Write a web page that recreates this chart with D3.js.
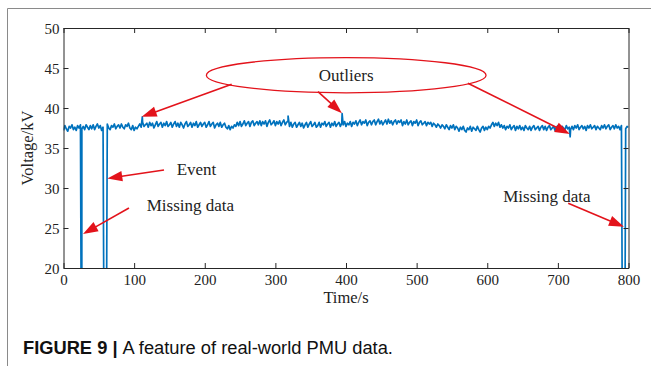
<!DOCTYPE html>
<html><head><meta charset="utf-8">
<script src="https://cdn.jsdelivr.net/npm/d3@7/dist/d3.min.js"></script>
<style>body{margin:0;background:#fff;}svg{display:block;}</style>
</head><body>
<svg id="c" width="651" height="366"></svg>
<script>
// ---- data ----
const xTicks = [0,100,200,300,400,500,600,700,800];
const yTicks = [20,25,30,35,40,45,50];
const sampleStep = 2; // seconds between samples below (t = 0,2,...,800)
const voltage = [
 37.2,37.8,37.4,37.1,37.7,37.5,37.9,37.3,37.6,37.2,37.8,37.5,37.9,37.4,37.7,37.3,37.9,37.6,37.3,37.8,
 37.4,37.9,37.3,37.7,38.0,37.5,37.8,37.2,37.6,37.9,37.4,38.0,37.5,37.3,37.8,37.6,38.0,37.4,37.7,37.9,
 37.5,38.0,37.6,37.4,37.9,37.7,38.1,37.5,37.3,37.8,37.2,37.6,37.4,37.7,38.0,37.6,38.2,37.7,37.9,38.1,
 37.6,38.2,37.8,38.1,37.5,37.9,38.3,37.7,38.0,38.2,37.6,38.1,37.8,38.3,37.7,37.9,38.2,37.6,38.0,38.3,
 37.7,38.1,37.6,38.2,37.9,37.5,38.0,38.3,37.7,37.9,38.2,37.6,38.1,37.8,38.3,37.6,37.9,38.2,37.7,38.0,
 38.2,37.6,37.9,38.3,37.7,38.0,38.2,37.5,37.9,38.1,37.7,38.2,37.6,37.9,38.1,37.6,37.4,37.8,37.3,37.7,
 37.5,37.9,37.7,38.2,37.8,38.3,37.7,38.0,38.4,37.8,38.1,38.3,37.7,38.2,38.4,37.8,38.1,38.3,37.9,38.4,
 37.8,38.3,38.0,38.4,37.7,38.2,38.5,37.9,38.1,38.4,37.8,38.3,38.0,38.4,37.8,38.2,38.5,37.9,38.2,38.4,
 37.7,38.2,37.6,38.0,38.2,37.6,37.9,38.2,37.7,38.1,37.5,37.9,38.2,37.6,38.0,38.3,37.7,37.9,38.2,37.6,
 37.8,38.2,37.6,38.1,37.9,38.3,37.7,38.0,38.2,37.6,38.1,37.8,38.3,37.7,38.0,38.2,37.7,38.1,37.9,38.3,
 37.7,38.1,37.9,38.3,37.7,38.2,38.0,38.4,37.8,38.2,38.5,37.9,38.3,38.1,38.5,37.8,38.2,38.4,37.9,38.3,
 38.5,37.9,38.3,38.6,38.0,38.4,37.9,38.2,38.5,38.0,38.6,38.1,38.4,37.9,38.3,38.5,38.0,38.4,38.2,38.5,
 37.8,38.3,38.0,38.5,37.9,38.2,38.4,37.8,38.3,38.1,38.5,37.8,38.2,38.4,37.9,38.1,38.3,37.8,38.2,38.0,
 38.2,37.7,38.1,37.9,37.6,38.0,37.8,37.5,37.9,37.7,37.4,37.9,37.6,37.3,37.8,37.5,37.9,37.3,37.7,37.5,
 37.1,37.6,37.3,37.7,37.2,37.0,37.5,37.3,37.7,37.1,37.6,37.4,37.2,37.7,37.3,37.0,37.5,37.7,37.2,37.6,
 37.3,37.7,37.5,37.9,38.2,37.7,38.1,37.8,38.2,37.6,37.9,37.5,37.8,37.3,37.7,37.5,37.9,37.3,37.6,37.8,
 37.2,37.7,37.4,37.8,37.3,37.6,37.2,37.8,37.5,37.3,37.7,37.2,37.6,37.8,37.3,37.5,37.7,37.2,37.6,37.8,
 37.3,37.7,37.2,37.6,37.8,37.3,37.5,37.7,37.2,37.6,37.8,37.4,37.2,37.7,37.5,37.3,37.8,37.4,37.6,37.3,
 37.7,37.3,37.8,37.5,37.9,37.3,37.6,37.8,37.4,37.7,37.2,37.8,37.5,37.9,37.4,37.6,37.8,37.3,37.7,37.5,
 37.3,37.8,37.5,37.9,37.4,37.7,37.9,37.3,37.6,37.8,37.4,37.9,37.5,37.7,37.3,37.8,37.6,37.9,37.4,37.7,
 37.6
];
const spikeTimes  = [111.6, 318, 394.5, 717.4];
const spikeValues = [38.9, 39.0, 39.3, 36.4];
const gapStarts = [25.7, 57.9, 792];   // missing samples (value 0)
const gapEnds   = [25.9, 60.2, 794.4];
const gapValue = 0;

// annotations (data units)
const ellipseCenter = [400.3, 44.1], ellipseRadius = [198, 2.2];
const labels = [
  {text:"Outliers", t:400.3, v:44.1, anchor:"middle"},
  {text:"Event", t:160.2, v:31.6, anchor:"start"},
  {text:"Missing data", t:117.8, v:27.1, anchor:"start"},
  {text:"Missing data", t:622.6, v:28.3, anchor:"start"}
];
const arrows = [
  {t0:238.1, v0:42.96, t1:110.7, v1:38.9},
  {t0:360.3, v0:42.04, t1:394.3, v1:39.34},
  {t0:572.6, v0:43.09, t1:717.0, v1:36.75},
  {t0:142.3, v0:32.25, t1:62.0,  v1:31.2},
  {t0:92.7,  v0:27.5,  t1:27.6,  v1:24.25},
  {t0:714.6, v0:28.09, t1:793.5, v1:25.16}
];

// ---- build series ----
const inGap = t => gapStarts.some((s,i)=> t>=s && t<=gapEnds[i]);
let pts = voltage.map((v,i)=>({t:i*sampleStep, v})).filter(d=>!inGap(d.t));
spikeTimes.forEach((t,i)=>pts.push({t, v:spikeValues[i]}));
gapStarts.forEach((s,i)=>{pts.push({t:s, v:gapValue}); pts.push({t:gapEnds[i], v:gapValue});});
pts.sort((a,b)=>a.t-b.t);

// ---- layout ----
const svg = d3.select("#c");
const L = 63.5, R = 628.5, T = 28, B = 268;
const x = d3.scaleLinear().domain([0,800]).range([L,R]);
const y = d3.scaleLinear().domain([20,50]).range([B,T]);
const axisColor = "#262626";
const serif = "'Liberation Serif','Times New Roman',serif";

// figure frame
svg.append("path").attr("d","M7.5,366 L7.5,8.5 L651,8.5").attr("fill","none").attr("stroke","#8a8a8a").attr("stroke-width",1);

svg.append("clipPath").attr("id","clip").append("rect").attr("x",L).attr("y",T).attr("width",R-L).attr("height",B-T);

// data line
svg.append("path").datum(pts)
  .attr("clip-path","url(#clip)")
  .attr("fill","none").attr("stroke","#0072BD").attr("stroke-width",1.7)
  .attr("stroke-linejoin","round")
  .attr("d", d3.line().x(d=>x(d.t)).y(d=>y(d.v)));

// axes (box with inward ticks)
const tickLen = 5;
const gB = svg.append("g").attr("transform",`translate(0,${B})`).call(d3.axisBottom(x).tickValues(xTicks).tickSizeInner(-tickLen).tickSizeOuter(0).tickPadding(6));
const gT = svg.append("g").attr("transform",`translate(0,${T})`).call(d3.axisTop(x).tickValues(xTicks).tickSizeInner(-tickLen).tickSizeOuter(0).tickFormat(""));
const gL = svg.append("g").attr("transform",`translate(${L},0)`).call(d3.axisLeft(y).tickValues(yTicks).tickSizeInner(-tickLen).tickSizeOuter(0).tickPadding(4));
const gR = svg.append("g").attr("transform",`translate(${R},0)`).call(d3.axisRight(y).tickValues(yTicks).tickSizeInner(-tickLen).tickSizeOuter(0).tickFormat(""));
[gB,gT,gL,gR].forEach(g=>{
  g.selectAll("path,line").attr("stroke",axisColor).attr("stroke-width",1);
  g.selectAll("text").attr("fill","#222").style("font-family",serif).style("font-size","15px");
});
gB.selectAll("text").attr("dy","0.71em");
gL.selectAll("text").attr("dy","0.35em");

// axis titles
svg.append("text").attr("x",(L+R)/2).attr("y",303).attr("text-anchor","middle")
  .style("font-family",serif).style("font-size","16.5px").attr("fill","#222").text("Time/s");
svg.append("text").attr("transform",`translate(33,${(T+B)/2}) rotate(-90)`).attr("text-anchor","middle")
  .style("font-family",serif).style("font-size","16.5px").attr("fill","#222").text("Voltage/kV");

// annotations
const red = "#e3131b";
svg.append("ellipse").attr("cx",x(ellipseCenter[0])).attr("cy",y(ellipseCenter[1]))
  .attr("rx",x(ellipseCenter[0]+ellipseRadius[0])-x(ellipseCenter[0]))
  .attr("ry",y(ellipseCenter[1])-y(ellipseCenter[1]+ellipseRadius[1]))
  .attr("fill","none").attr("stroke",red).attr("stroke-width",1.3);
labels.forEach(l=>{
  svg.append("text").attr("x",x(l.t)).attr("y",y(l.v)).attr("text-anchor",l.anchor)
    .attr("dy", l.anchor==="middle" ? "0.35em" : "0")
    .style("font-family",serif).style("font-size","17px").attr("fill","#222").text(l.text);
});
arrows.forEach(a=>{
  const x0=x(a.t0), y0=y(a.v0), x1=x(a.t1), y1=y(a.v1);
  const dx=x1-x0, dy=y1-y0, len=Math.hypot(dx,dy), ux=dx/len, uy=dy/len;
  const hl=15, hw=5.2;
  const bx=x1-ux*hl, by=y1-uy*hl;
  svg.append("line").attr("x1",x0).attr("y1",y0).attr("x2",bx+ux*2).attr("y2",by+uy*2)
    .attr("stroke",red).attr("stroke-width",1.6);
  svg.append("path").attr("d",`M${x1},${y1} L${bx-uy*hw},${by+ux*hw} L${bx+uy*hw},${by-ux*hw} Z`).attr("fill",red);
});

// caption
const cap = svg.append("text").attr("x",23).attr("y",354).style("font-family","'Liberation Sans',Arial,sans-serif").style("font-size","18.3px").attr("fill","#111");
cap.append("tspan").attr("font-weight","bold").text("FIGURE 9 | ");
cap.append("tspan").text("A feature of real-world PMU data.");
</script>
</body></html>
